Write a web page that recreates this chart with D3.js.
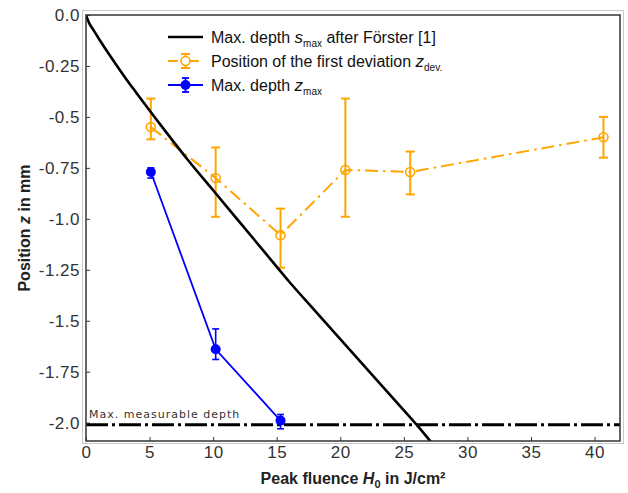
<!DOCTYPE html>
<html>
<head>
<meta charset="utf-8">
<script src="https://cdn.jsdelivr.net/npm/d3@7"></script>
<style>
  body { margin: 0; background: #fff; }
  text { font-family: "Liberation Sans", Arial, sans-serif; }
</style>
</head>
<body>
<script>
// position of the first deviation z_dev (orange)
var fluenceDev = [5.1, 10.2, 15.3, 20.4, 25.5, 40.7];
var zDev     = [-0.55, -0.80, -1.08, -0.76, -0.77, -0.60];
var zDevLow  = [-0.61, -0.99, -1.24, -0.99, -0.88, -0.70];
var zDevHigh = [-0.41, -0.65, -0.95, -0.41, -0.67, -0.50];

// max. depth z_max (blue)
var fluenceMax = [5.1, 10.2, 15.3];
var zMax     = [-0.77, -1.64, -1.99];
var zMaxLow  = [-0.80, -1.69, -2.03];
var zMaxHigh = [-0.75, -1.54, -1.96];

// max. depth s_max after Förster
var forsterH = [0, 0.25, 0.5, 1, 2, 3, 4, 6, 8, 10, 12, 14, 16, 18, 20, 22, 24, 26, 27.2];
var forsterS = [0, -0.04, -0.065, -0.115, -0.21, -0.30, -0.385, -0.55, -0.71, -0.86, -1.01, -1.16, -1.31, -1.45, -1.59, -1.73, -1.87, -2.01, -2.10];

var measurableDepth = -2.01;

var xTicks = [0, 5, 10, 15, 20, 25, 30, 35, 40];
var yTicks = [0, -0.25, -0.5, -0.75, -1.0, -1.25, -1.5, -1.75, -2.0];
var yTickLabels = ["0.0", "-0.25", "-0.5", "-0.75", "-1.0", "-1.25", "-1.5", "-1.75", "-2.0"];

var W = 628, H = 493;
var pLeft = 86, pRight = 620, pTop = 15, pBottom = 441;

var orange = "#ffa500", blue = "#0000ff";

var svg = d3.select("body").append("svg")
    .attr("width", W)
    .attr("height", H);

var x = d3.scaleLinear().domain([0, 42]).range([pLeft, pRight]);
var y = d3.scaleLinear().domain([-2.09, 0]).range([pBottom, pTop]);

// light outer box
svg.append("rect")
    .attr("x", pLeft - 3.5).attr("y", pTop - 4.5)
    .attr("width", pRight - pLeft + 7).attr("height", pBottom - pTop + 7)
    .attr("fill", "none").attr("stroke", "#c8c8c8").attr("stroke-width", 1);

svg.append("clipPath").attr("id", "plot")
  .append("rect").attr("x", pLeft).attr("y", pTop)
    .attr("width", pRight - pLeft).attr("height", pBottom - pTop);

// axes
var xAxis = svg.append("g")
    .attr("transform", "translate(0," + pBottom + ")")
    .call(d3.axisBottom(x).tickValues(xTicks).tickSize(-4).tickPadding(5));
var yAxis = svg.append("g")
    .attr("transform", "translate(" + pLeft + ",0)")
    .call(d3.axisLeft(y).tickValues(yTicks).tickSize(-4).tickPadding(6)
      .tickFormat(function(d, i) { return yTickLabels[i]; }));

[xAxis, yAxis].forEach(function(a) {
  a.select(".domain").remove();
  a.selectAll(".tick line").attr("stroke", "#333").attr("stroke-width", 1);
  a.selectAll(".tick text").attr("fill", "#333").style("font-size", "17px")
    .style("letter-spacing", "0.5px")
    .style("font-family", "'Liberation Sans', Arial, sans-serif");
});

var plot = svg.append("g").attr("clip-path", "url(#plot)");

// measurable depth line
plot.append("line")
    .attr("x1", pLeft).attr("x2", pRight)
    .attr("y1", y(measurableDepth)).attr("y2", y(measurableDepth))
    .attr("stroke", "#000").attr("stroke-width", 3)
    .attr("stroke-dasharray", "22,4,3,4");

svg.append("text")
    .attr("x", pLeft + 3).attr("y", y(measurableDepth) - 7)
    .style("font-family", "'DejaVu Sans', sans-serif")
    .style("font-size", "11px")
    .style("letter-spacing", "1px")
    .attr("fill", "#333")
    .text("Max.  measurable depth");

// orange series
var devData = d3.range(fluenceDev.length).map(function(i) {
  return {h: fluenceDev[i], z: zDev[i], lo: zDevLow[i], hi: zDevHigh[i]};
});
var line = d3.line().x(function(d) { return x(d.h); }).y(function(d) { return y(d.z); });

plot.append("path")
    .datum(devData)
    .attr("d", line)
    .attr("fill", "none").attr("stroke", orange).attr("stroke-width", 2)
    .attr("stroke-dasharray", "13,5,2.5,5");

var devBars = plot.append("g").selectAll("g").data(devData).enter().append("g")
    .attr("stroke", orange).attr("stroke-width", 2);
devBars.append("line")
    .attr("x1", function(d) { return x(d.h); }).attr("x2", function(d) { return x(d.h); })
    .attr("y1", function(d) { return y(d.lo); }).attr("y2", function(d) { return y(d.hi); });
devBars.append("line")
    .attr("x1", function(d) { return x(d.h) - 4.5; }).attr("x2", function(d) { return x(d.h) + 4.5; })
    .attr("y1", function(d) { return y(d.lo); }).attr("y2", function(d) { return y(d.lo); });
devBars.append("line")
    .attr("x1", function(d) { return x(d.h) - 4.5; }).attr("x2", function(d) { return x(d.h) + 4.5; })
    .attr("y1", function(d) { return y(d.hi); }).attr("y2", function(d) { return y(d.hi); });
devBars.append("circle")
    .attr("cx", function(d) { return x(d.h); }).attr("cy", function(d) { return y(d.z); })
    .attr("r", 4.5).attr("fill", "none").attr("stroke-width", 1.6);

// Förster curve
var forsterData = forsterH.map(function(h, i) { return {h: h, z: forsterS[i]}; });
plot.append("path")
    .datum(forsterData)
    .attr("d", d3.line().curve(d3.curveMonotoneX)
      .x(function(d) { return x(d.h); }).y(function(d) { return y(d.z); }))
    .attr("fill", "none").attr("stroke", "#000").attr("stroke-width", 2.6);

// blue series
var maxData = d3.range(fluenceMax.length).map(function(i) {
  return {h: fluenceMax[i], z: zMax[i], lo: zMaxLow[i], hi: zMaxHigh[i]};
});
plot.append("path")
    .datum(maxData)
    .attr("d", line)
    .attr("fill", "none").attr("stroke", blue).attr("stroke-width", 1.8);

var maxBars = plot.append("g").selectAll("g").data(maxData).enter().append("g")
    .attr("stroke", blue).attr("stroke-width", 1.6);
maxBars.append("line")
    .attr("x1", function(d) { return x(d.h); }).attr("x2", function(d) { return x(d.h); })
    .attr("y1", function(d) { return y(d.lo); }).attr("y2", function(d) { return y(d.hi); });
maxBars.append("line")
    .attr("x1", function(d) { return x(d.h) - 3.5; }).attr("x2", function(d) { return x(d.h) + 3.5; })
    .attr("y1", function(d) { return y(d.lo); }).attr("y2", function(d) { return y(d.lo); });
maxBars.append("line")
    .attr("x1", function(d) { return x(d.h) - 3.5; }).attr("x2", function(d) { return x(d.h) + 3.5; })
    .attr("y1", function(d) { return y(d.hi); }).attr("y2", function(d) { return y(d.hi); });
maxBars.append("circle")
    .attr("cx", function(d) { return x(d.h); }).attr("cy", function(d) { return y(d.z); })
    .attr("r", 5).attr("fill", blue).attr("stroke", "none");

// frame
svg.append("rect")
    .attr("x", pLeft).attr("y", pTop)
    .attr("width", pRight - pLeft).attr("height", pBottom - pTop)
    .attr("fill", "none").attr("stroke", "#333").attr("stroke-width", 1.5);

// legend
var lg = svg.append("g").attr("transform", "translate(168,0)");
var rowY = [37, 61, 85];

lg.append("line").attr("x1", 0).attr("x2", 35).attr("y1", rowY[0]).attr("y2", rowY[0])
    .attr("stroke", "#000").attr("stroke-width", 2.6);

var l2 = lg.append("g").attr("stroke", orange).attr("stroke-width", 2);
l2.append("line").attr("x1", 0).attr("x2", 35).attr("y1", rowY[1]).attr("y2", rowY[1])
    .attr("stroke-dasharray", "10,4,3,4");
l2.append("line").attr("x1", 17.5).attr("x2", 17.5).attr("y1", rowY[1] - 7).attr("y2", rowY[1] + 7);
l2.append("line").attr("x1", 13).attr("x2", 22).attr("y1", rowY[1] - 7).attr("y2", rowY[1] - 7);
l2.append("line").attr("x1", 13).attr("x2", 22).attr("y1", rowY[1] + 7).attr("y2", rowY[1] + 7);
l2.append("circle").attr("cx", 17.5).attr("cy", rowY[1]).attr("r", 4.5)
    .attr("fill", "#fff").attr("stroke-width", 1.6);

var l3 = lg.append("g").attr("stroke", blue).attr("stroke-width", 1.8);
l3.append("line").attr("x1", 0).attr("x2", 35).attr("y1", rowY[2]).attr("y2", rowY[2]);
l3.append("line").attr("x1", 17.5).attr("x2", 17.5).attr("y1", rowY[2] - 7).attr("y2", rowY[2] + 7);
l3.append("line").attr("x1", 14).attr("x2", 21).attr("y1", rowY[2] - 7).attr("y2", rowY[2] - 7);
l3.append("line").attr("x1", 14).attr("x2", 21).attr("y1", rowY[2] + 7).attr("y2", rowY[2] + 7);
l3.append("circle").attr("cx", 17.5).attr("cy", rowY[2]).attr("r", 5)
    .attr("fill", blue).attr("stroke", "none");

var legendText = [
  [["Max. depth ", ""], ["s", "i"], ["max", "sub"], [" after Förster [1]", ""]],
  [["Position of the first deviation ", ""], ["z", "i"], ["dev.", "sub"]],
  [["Max. depth ", ""], ["z", "i"], ["max", "sub"]]
];
legendText.forEach(function(parts, r) {
  var t = lg.append("text").attr("x", 43).attr("y", rowY[r] + 5.5)
      .style("font-size", "16px").attr("fill", "#111");
  parts.forEach(function(p, k) {
    var ts = t.append("tspan").text(p[0]);
    if (p[1] === "i") ts.style("font-style", "italic").style("font-size", "17px");
    if (p[1] === "sub") ts.style("font-size", "10px").attr("dy", 4);
    if (k > 0 && parts[k - 1][1] === "sub") ts.attr("dy", -4);
  });
});

// axis titles
var xt = svg.append("text")
    .attr("x", (pLeft + pRight) / 2).attr("y", 484)
    .attr("text-anchor", "middle")
    .style("font-size", "16px").style("font-weight", "bold").attr("fill", "#222");
xt.append("tspan").text("Peak fluence ");
xt.append("tspan").text("H").style("font-style", "italic");
xt.append("tspan").text("0").style("font-size", "11px").attr("dy", 4);
xt.append("tspan").text(" in J/cm²").attr("dy", -4);

var yt = svg.append("text")
    .attr("transform", "translate(30," + ((pTop + pBottom) / 2) + ") rotate(-90)")
    .attr("text-anchor", "middle")
    .style("font-size", "16px").style("font-weight", "bold").attr("fill", "#222");
yt.append("tspan").text("Position ");
yt.append("tspan").text("z").style("font-style", "italic");
yt.append("tspan").text(" in mm");
</script>
</body>
</html>
